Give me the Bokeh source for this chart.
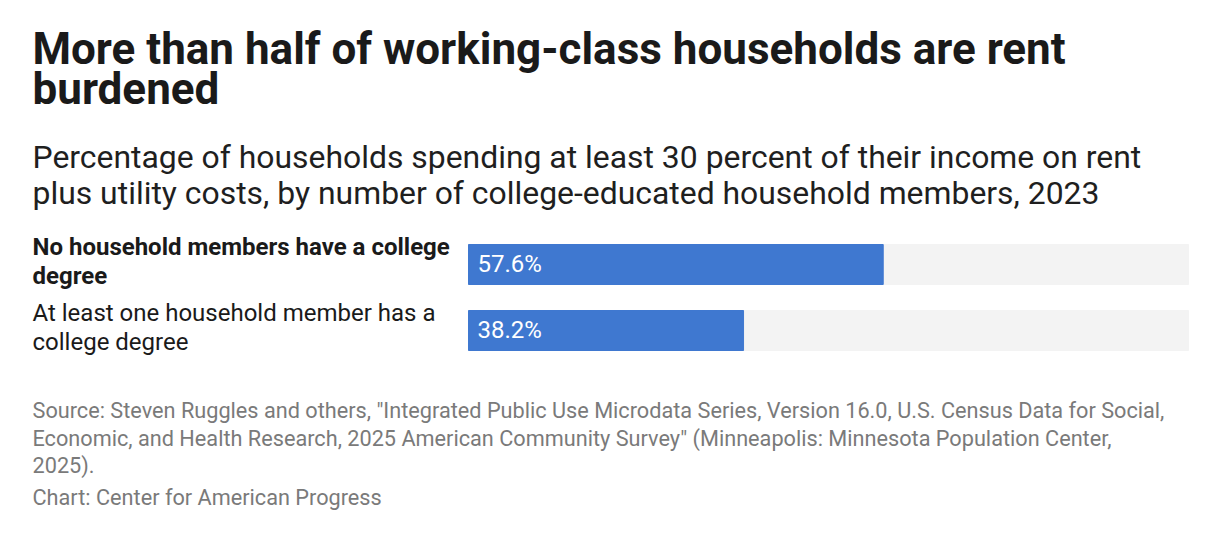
from bokeh.plotting import figure
from bokeh.models import Range1d, Label, ColumnDataSource
from bokeh.core.properties import value
from bokeh.embed import file_html
from bokeh.resources import INLINE

# ---- data ----
categories = ["No household members have a college degree",
              "At least one household member has a college degree"]
category_lines = [["No household members have a college", "degree"],
                  ["At least one household member has a", "college degree"]]
category_bold = [True, False]
values = [57.6, 38.2]
max_value = 100

title_lines = ["More than half of working-class households are rent", "burdened"]
subtitle_lines = ["Percentage of households spending at least 30 percent of their income on rent",
                  "plus utility costs, by number of college-educated household members, 2023"]
source_lines = ['Source: Steven Ruggles and others, "Integrated Public Use Microdata Series, Version 16.0, U.S. Census Data for Social,',
                'Economic, and Health Research, 2025 American Community Survey" (Minneapolis: Minnesota Population Center,',
                '2025).']
credit_line = "Chart: Center for American Progress"

# ---- layout (pixels) ----
W, H = 1204, 526
LEFT = 32
BAR_X0 = 468          # px where value 0 sits
BAR_W = 720           # px for 100%
px_per_unit = BAR_W / max_value
x_start = -BAR_X0 / px_per_unit
x_end = (W - BAR_X0) / px_per_unit
BASE = 0.385          # renderer draws alphabetic baseline this fraction of size below y

FONT = "Roboto"
BLUE = "#3f78d0"

p = figure(width=W, height=H, output_backend="svg", toolbar_location=None,
           x_range=Range1d(x_start, x_end), y_range=Range1d(H, 0),
           x_axis_location=None, y_axis_location=None, min_border=0)
p.outline_line_color = None
p.grid.visible = False
p.background_fill_color = "white"
p.border_fill_color = "white"

bar_y0 = 264
bar_step = 66
bar_h = 40
ys = [bar_y0 + i * bar_step for i in range(len(values))]

VAL_SIZE = 24
src = ColumnDataSource(dict(y=ys, v=values, full=[max_value] * len(values),
                            lbl=[f"{v:.1f}%" for v in values], zero=[0] * len(values)))
p.hbar(y="y", left=0, right="full", height=bar_h, color="#f3f3f3", source=src)
p.hbar(y="y", left=0, right="v", height=bar_h, color=BLUE, source=src)
p.text(x="zero", y="y", text="lbl", source=src, x_offset=9, y_offset=8.5 - BASE * VAL_SIZE,
       text_font=value(FONT), text_font_size=f"{VAL_SIZE}px", text_color="white",
       text_baseline="alphabetic", text_align="left")

def add(txt, baseline, size, color, bold=False):
    p.add_layout(Label(x=LEFT, y=baseline - BASE * size, x_units="screen", y_units="data", text=txt,
                       text_font=FONT, text_font_size=f"{size}px", text_color=color,
                       text_font_style="bold" if bold else "normal",
                       text_baseline="alphabetic", text_align="left"))

for i, t in enumerate(title_lines):
    add(t, 65 + i * 40, 44, "#1a1a1a", True)
for i, t in enumerate(subtitle_lines):
    add(t, 168.3 + i * 36.7, 31.9, "#1f1f1f")
for ci, lines in enumerate(category_lines):
    for li, t in enumerate(lines):
        add(t, ys[ci] - 8 + li * 28.7, 24, "#1a1a1a", category_bold[ci])
for i, t in enumerate(source_lines):
    add(t, 418.3 + i * 27.6, 21.7, "#7a7a7a")
add(credit_line, 505, 21.7, "#7a7a7a")

open("out.html", "w").write(file_html(p, INLINE))
